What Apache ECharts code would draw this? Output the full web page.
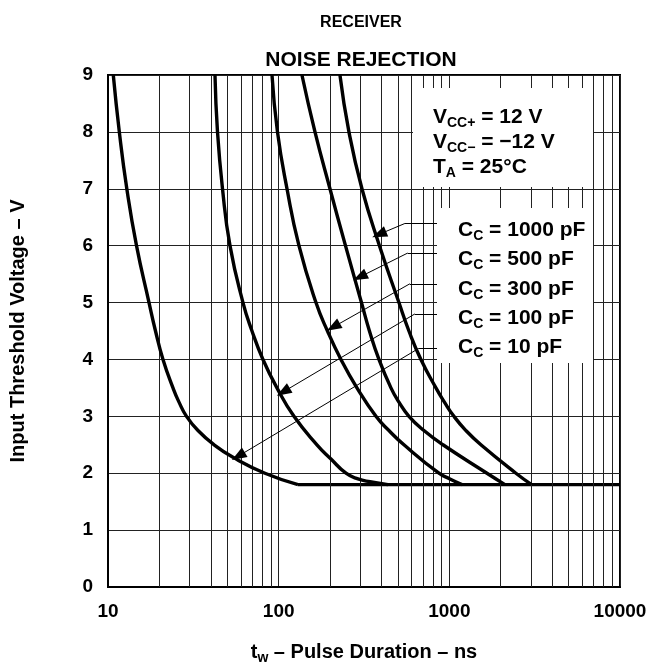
<!DOCTYPE html>
<html>
<head>
<meta charset="utf-8">
<script src="https://cdn.jsdelivr.net/npm/echarts@6/dist/echarts.min.js"></script>
<style>
html, body { margin: 0; padding: 0; background: #fff; }
#main { width: 650px; height: 665px; }
</style>
</head>
<body>
<div id="main"></div>
<script>
// pulse duration (ns) vs input threshold voltage (V), one curve per Cc
const cc10 = [[10.74, 9], [11.65, 8], [12.89, 7], [14.69, 6], [17.39, 5], [18.98, 4.5], [21.0, 4], [24.03, 3.5],
    [26.06, 3.25], [28.84, 3], [33.67, 2.75], [41.78, 2.5], [54, 2.28], [83.1, 2], [129.8, 1.8]];
const cc100 = [[42.35, 9], [43.81, 8], [46.87, 7], [51.85, 6], [61.78, 5], [69.77, 4.5], [80.9, 4], [97.7, 3.5],
    [122.9, 3], [167.6, 2.5], [202.5, 2.25], [248, 2], [291.5, 1.9], [342.7, 1.85], [436.9, 1.8]];
const cc300 = [[91.4, 9], [98.4, 8], [111.9, 7], [131.5, 6], [165.4, 5], [193.2, 4.5], [231.7, 4], [287.5, 3.5],
    [371.6, 3], [442.8, 2.75], [542, 2.5], [869, 2], [1008, 1.9], [1185, 1.8]];
const cc500 = [[136.9, 9], [163.2, 8], [199.8, 7], [246.3, 6], [305.5, 5], [340.3, 4.5], [386.9, 4], [454.9, 3.5],
    [506.6, 3.25], [579.8, 3], [709.9, 2.75], [917.4, 2.5], [1661, 2], [2118, 1.8]];
const cc1000 = [[228.6, 9], [258.1, 8], [307.6, 7], [389.5, 6], [506.6, 5], [579.8, 4.5], [681.6, 4], [834.6, 3.5],
    [935.9, 3.25], [1064, 3], [1251, 2.75], [1531, 2.5], [2456, 2], [3034, 1.8]];
const floorLine = [[129.8, 1.8], [10000, 1.8]];

const capLabels = ['1000 pF', '500 pF', '300 pF', '100 pF', '10 pF'];
// leader lines: [elbow x, label x, y, arrow tip x, arrow tip y] in data units
const leader1000 = [549, 917, 6.39, 388, 6.2];
const leader500 = [570, 917, 5.87, 299, 5.45];
const leader300 = [587, 917, 5.33, 209, 4.57];
const leader100 = [628, 917, 4.8, 106.4, 3.43];
const leader10 = [658, 917, 4.19, 58, 2.3];

const xTicks = [10, 100, 1000, 10000];
const decades = [10, 100, 1000];
const multipliers = [2, 3, 4, 5, 6, 7, 8, 9];

const font = 'Liberation Sans, Arial, Helvetica, sans-serif';

let chart = echarts.init(document.getElementById('main'));

let minorLines = [];
decades.forEach(d => multipliers.forEach(m => minorLines.push({ xAxis: d * m })));

function leader(l) {
    return {
        silent: true,
        symbol: ['none', 'none'],
        label: { show: false },
        lineStyle: { color: '#000', width: 1, type: 'solid' },
        data: [
            [{ coord: [l[0], l[2]] }, { coord: [l[1], l[2]] }],
            [{ coord: [l[0], l[2]], symbol: 'none' }, { coord: [l[3], l[4]], symbol: 'triangle', symbolSize: [11, 15] }]
        ]
    };
}

function curve(name, data, l) {
    return {
        name: name,
        type: 'line',
        data: data,
        smooth: 0.5,
        showSymbol: false,
        lineStyle: { color: '#000', width: 3.4 },
        z: 5,
        markLine: leader(l)
    };
}

const rowStyles = {
    b: { fontSize: 21, fontWeight: 'bold', fontFamily: font, color: '#000', lineHeight: 24 },
    s: { fontSize: 14, fontWeight: 'bold', fontFamily: font, color: '#000', lineHeight: 14, padding: [12, 0, 0, 0] }
};

function boxText(x, y, str) {
    return {
        type: 'text', x: x, y: y, z: 60,
        style: { text: str, rich: rowStyles, verticalAlign: 'middle' }
    };
}

option = {
    animation: false,
    backgroundColor: '#fff',
    title: [
        { text: 'RECEIVER', left: 356, top: 10, textAlign: 'center',
          textStyle: { fontSize: 16, fontWeight: 'bold', fontFamily: font, color: '#000' } },
        { text: 'NOISE REJECTION', left: 356, top: 45, textAlign: 'center',
          textStyle: { fontSize: 21, fontWeight: 'bold', fontFamily: font, color: '#000' } }
    ],
    grid: {
        left: 108, right: 30, top: 75, bottom: 78,
        outerBoundsMode: 'none',
        show: true, borderColor: '#000', borderWidth: 2, backgroundColor: 'transparent'
    },
    xAxis: {
        type: 'log',
        logBase: 10,
        min: 10,
        max: 10000,
        name: '{b|t}{s|w}{b| – Pulse Duration – ns}',
        nameLocation: 'middle',
        nameGap: 54,
        nameTextStyle: { rich: {
            b: { fontSize: 20, fontWeight: 'bold', fontFamily: font, color: '#000', lineHeight: 23 },
            s: { fontSize: 14, fontWeight: 'bold', fontFamily: font, color: '#000', lineHeight: 14, padding: [12, 0, 0, 0] }
        } },
        axisLine: { show: true, lineStyle: { color: '#000', width: 2 } },
        axisTick: { show: false },
        axisLabel: {
            margin: 15, color: '#000', fontSize: 19, fontWeight: 'bold', fontFamily: font,
            formatter: v => xTicks.indexOf(Math.round(v)) >= 0 ? String(Math.round(v)) : ''
        },
        splitLine: { show: true, lineStyle: { color: '#222', width: 1 } }
    },
    yAxis: {
        type: 'value',
        min: 0,
        max: 9,
        interval: 1,
        name: 'Input Threshold Voltage – V',
        nameLocation: 'middle',
        nameGap: 80,
        nameTextStyle: { fontSize: 20, fontWeight: 'bold', fontFamily: font, color: '#000' },
        axisLine: { show: true, lineStyle: { color: '#000', width: 2 } },
        axisTick: { show: false },
        axisLabel: { margin: 15, color: '#000', fontSize: 19, fontWeight: 'bold', fontFamily: font },
        splitLine: { show: true, lineStyle: { color: '#222', width: 1 } }
    },
    graphic: [
        { type: 'rect', z: 50, shape: { x: 413, y: 88, width: 180, height: 99 }, style: { fill: '#fff' } },
        { type: 'rect', z: 50, shape: { x: 437, y: 208, width: 156, height: 155 }, style: { fill: '#fff' } },
        boxText(433, 117, '{b|V}{s|CC+}{b| = 12 V}'),
        boxText(433, 142, '{b|V}{s|CC−}{b| = −12 V}'),
        boxText(433, 167, '{b|T}{s|A}{b| = 25°C}'),
        boxText(458, 230, '{b|C}{s|C}{b| = ' + capLabels[0] + '}'),
        boxText(458, 259, '{b|C}{s|C}{b| = ' + capLabels[1] + '}'),
        boxText(458, 289, '{b|C}{s|C}{b| = ' + capLabels[2] + '}'),
        boxText(458, 318, '{b|C}{s|C}{b| = ' + capLabels[3] + '}'),
        boxText(458, 347, '{b|C}{s|C}{b| = ' + capLabels[4] + '}')
    ],
    series: [
        {
            name: 'floor',
            type: 'line',
            data: floorLine,
            showSymbol: false,
            lineStyle: { color: '#000', width: 3.4 },
            z: 4,
            markLine: {
                silent: true,
                symbol: ['none', 'none'],
                label: { show: false },
                lineStyle: { color: '#222', width: 1, type: 'solid' },
                data: minorLines
            }
        },
        curve('Cc = 10 pF', cc10, leader10),
        curve('Cc = 100 pF', cc100, leader100),
        curve('Cc = 300 pF', cc300, leader300),
        curve('Cc = 500 pF', cc500, leader500),
        curve('Cc = 1000 pF', cc1000, leader1000)
    ]
};
chart.setOption(option);
</script>
</body>
</html>
